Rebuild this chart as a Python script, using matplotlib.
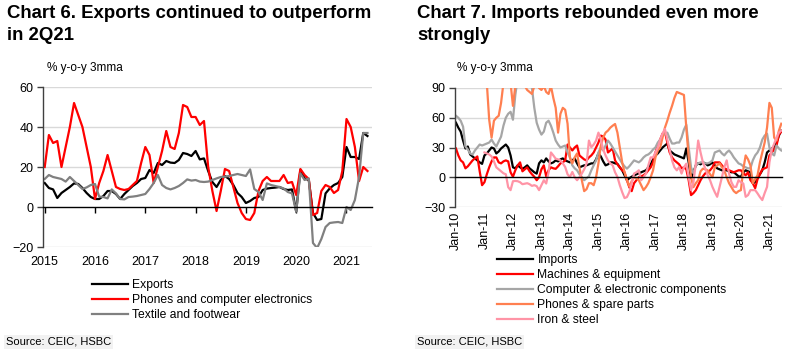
import numpy as np
import matplotlib
matplotlib.use('Agg')
import matplotlib.pyplot as plt

plt.rcParams['font.family'] = ['Liberation Sans', 'DejaVu Sans']

# Chart 6: exports, % y-o-y 3mma, monthly Jan 2015 - Jun 2021
exp_years = [2015, 2016, 2017, 2018, 2019, 2020, 2021]
exports = [12, 9.5, 8.8, 4.5, 7, 8.5, 10, 11.8, 11.5, 9.5, 7, 5,
           4, 4, 5.5, 8, 8, 6.5, 4, 6.5, 8.5, 10.5, 12, 14,
           14.5, 18.5, 17, 22, 21, 23, 22.2, 22, 23.5, 27, 26.5, 25.5,
           28, 23.8, 24.3, 18, 12.5, 10, 13.5, 15.5, 14, 11, 7, 5,
           2, 3, 4.5, 5, 8.5, 9.2, 9.5, 9.7, 10, 9, 8.5, 8.8,
           -2.3, 18.5, 14.3, 13.5, -3, -6.5, -6, 6.8, 9.3, 11, 12, 15,
           30, 25, 25, 24, 37, 35.5]
phones = [20, 36, 32, 33, 20, 30, 40, 52, 46, 40, 30, 20,
          4, 12, 18, 26, 18, 10, 9, 8.5, 9, 11, 13, 22,
          30, 26, 12, 20, 28, 38, 30, 29, 37, 51, 50, 45,
          45, 41, 43, 20, 8, -2, 8, 19, 18, 10, 2, -3,
          -6, -6.5, -3, 8, 13, 15, 13, 13, 13, 16, 12, 12.5,
          6, 19, 16, 14, -4, -3, 8, 11, 10, 7, 8.5, 18,
          44, 40, 30, 13, 20, 18]
textile = [14, 16, 15, 14.5, 14, 12.7, 15, 13, 11, 9, 9.8, 11,
           11.5, 5.2, 5, 4.3, 8.8, 6.8, 4, 3.8, 5, 5.2, 5.5, 6,
           6.5, 9, 12, 16, 11, 9.5, 8.8, 9.5, 10.5, 12, 13.8, 13.2,
           13.5, 12.7, 12.5, 12.7, 13.5, 14.3, 15, 15.2, 15.5, 16, 16.5, 16,
           15.5, 18.8, 9, 7.5, 3.5, 11.8, 11, 10.5, 10, 9.3, 7.5, 6.8,
           -2.3, 16.8, 13.5, 14.3, -18, -20.5, -16, -10, -8, -7.7, -7.5, -8,
           0, -1.5, 3.5, 15, 37, 37]

# Chart 7: imports, % y-o-y 3mma, monthly Jan 2010 - Jun 2021
imp_labels = ['Jan-10', 'Jan-11', 'Jan-12', 'Jan-13', 'Jan-14', 'Jan-15',
              'Jan-16', 'Jan-17', 'Jan-18', 'Jan-19', 'Jan-20', 'Jan-21']
imports = [55, 50, 46, 37, 29, 31, 23, 21, 19, 17, 15, 13.5,
           22, 24, 27, 30, 29, 24, 26, 29, 31, 33, 30, 22,
           10, 9, 12, 10, 8.5, 10, 12, 9, 7, 5, 3.7, 14,
           17, 15, 19, 16, 14, 15, 17, 16, 18, 19, 17, 16,
           15, 17, 19, 14, 10, 11, 12, 12, 13, 14, 14, 18,
           24, 21, 16, 12, 13, 15, 15, 14, 13.5, 10, 7, 2,
           -3, -1, 0.5, 2, 3, 4, 5, 6, 7, 10, 13, 18,
           22, 24, 27, 30, 32, 34, 27, 25, 23, 22, 21, 20,
           19, 29, 15, -1, 5, 12, 14, 13, 15, 14, 12, 13,
           15, 12, 9, 8, 7, 7, 7, 6, 5, 5, 3, 1,
           0.5, 5, 7, 6, 5, -6, -5, 0, 3, 7, 15, 25,
           27, 29, 30, 35, 42, 47]
machines = [29, 22, 17, 15, 9, 11, 14, 17, 19, 21, 6, -8,
            -5, 3, 10, 16, 20, 20, 15, 14, 16, 17, 16, 5,
            0.5, 7, 12, 15, 6, 8, 10, 6, 3, 0.5, -3, 0,
            8, 12, 1, 7, 10, 9, 8.5, 11, 14, 15, 17, 33,
            30, 27, 30, 32, 22, 20, 18, 17, 20, 22, 25, 30,
            35, 42, 41, 38, 25, 27, 29, 17, 13, 10, 7, 5,
            -3, -10, -14, -6, -3, 0, 1, 2, 4, 7, 10, 15,
            25, 32, 38, 44, 46, 35, 25, 20, 17, 15, 13, 9,
            10, 8, -3, -18, -16, -13, -8, -3, 1, 4, 5, 7,
            10, 15, 15, 15, 12, 9, 8, 7, 6, 5, 6, 7,
            7, 4, 2, 5, -3, -6, -11, -2, 3, 8, 9, 10,
            22, 25, 28, 32, 43, 46]
computers = [62, 60, 57, 51, 31, 28, 24, 23, 27, 30, 33, 32,
             33, 34, 35, 38, 34, 31, 36, 41, 52, 60, 64, 66,
             58, 83, 100, 110, 112, 100, 95, 100, 90, 70, 55, 48,
             43, 46, 55, 57, 52, 45, 37, 33, 30, 31, 32, 25,
             20, 12, 9, 7, 3, 0, -3, -1, 1, 7, 12, 17,
             25, 30, 27, 32, 37, 34, 30, 26, 22, 18, 14, 11,
             8.7, 11, 14, 17, 16, 15, 17, 20, 22, 23, 25, 28,
             30, 35, 38, 42, 44, 45, 39, 34, 34, 35, 35, 40,
             48, 53, 30, 10, 4, 12, 14, 15, 15, 14, 14, 15,
             17, 25, 26, 27, 24, 22, 25, 27, 24, 20, 17, 14,
             13, 11, 10, 9, 9, 17, 22, 25, 30, 38, 42, 44,
             30, 24, 22, 32, 29, 27]
phone_parts = [130, 140, 135, 125, 120, 115, 110, 105, 110, 108, 100, 95,
               110, 95, 58, 40, 57, 60, 62, 75, 95, 100, 105, 95,
               72, 92, 100, 98, 95, 92, 88, 86, 84, 92, 95, 90,
               88, 92, 86, 84, 92, 80, 70, 45, 64, 70, 68, 54,
               20, 14, 20, 24, 10, -3, -14, -12, -6, -6, -8, 0,
               14, 32, 40, 45, 47, 50, 52, 53.7, 45, 30, 15, 5,
               -3, -9, -4, 0, -1, -3, -8, -13, -10, -6, 0, 7,
               20, 27, 30, 40, 50, 57, 65, 72, 80, 86, 85, 84,
               83, 50, 20, 0, -10, -6, -3, 6, 8.7, 8, 7, 3,
               0, 10, 12, 14, 10, 7, 0, -6, -10, -14, -16, -14,
               -13, 8, 22, 18, 12, -6, -2, 2, 15, 25, 35, 50,
               75, 70, 40, 37, 47, 54]
iron_steel = [np.nan] * 12 + [
              25, 24, 23, 21, 16, 10, 8, 6, 4, 3, -10, -13,
              -4, -3.7, -4, -5, -7, -6.5, -6, -7, -8.7, -8, -9, -13,
              -8, -3, -6.3, 5, 25, 22, 18.7, 18, 17, 14, 10.3, 3,
              0.3, 5.3, 0, -3, 0, 3.7, 8, 13.7, 37, 30.3, 33, 37,
              45, 38, 28, 22, 17, 14, 12, 5, 0.3, -8, -15, -21,
              -20, -15, -6, 3.7, 5, 7, -3, 0, 3.7, 12, 20, 20,
              25, 30, 38, 44, 48.7, 38, 28, 17, 10, 7, 10.3, 3.7,
              10, 13.7, 0.3, -13, -5, 13.7, 37, 25, 15, 8.7, 2, -3,
              -9.7, -15, -19.7, -9.7, 0.3, 10, 17, 3.7, -5, -9.7, -9.7, -3,
              -5, -6.3, -19.7, -18, -13, -13, -13, -16.3, -20, -23, -16, -9.7,
              15, 28, 33.7, 40, 45, 47]

GRID = '#D9D9D9'

fig = plt.figure(figsize=(7.93, 3.63), dpi=100)


def style_axis(ax, ylim, yticks):
    ax.set_ylim(*ylim)
    ax.set_yticks(yticks)
    for y in yticks:
        if y != 0:
            ax.axhline(y, color=GRID, lw=1, zorder=0)
    ax.spines['top'].set_visible(False)
    ax.spines['right'].set_visible(False)
    ax.spines['bottom'].set_position(('data', 0))
    ax.spines['bottom'].set_linewidth(1)
    ax.spines['left'].set_color('#404040')
    ax.spines['left'].set_linewidth(1)
    ax.tick_params(axis='y', direction='out', length=4, width=1,
                   labelsize=9, pad=3, color='#404040')


# ---- left: Chart 6
ax1 = fig.add_axes([43 / 793, 1 - 247 / 363, 329 / 793, 160 / 363])
t = 2015 + np.arange(len(exports)) / 12
ax1.plot(t, exports, color='black', lw=1.6, label='Exports')
ax1.plot(t, phones, color='#FF0000', lw=1.6, label='Phones and computer electronics')
ax1.plot(t, textile, color='#808080', lw=1.6, label='Textile and footwear')
style_axis(ax1, (-20, 60), [-20, 0, 20, 40, 60])
ax1.set_xlim(2014.966, 2021.507)
ax1.set_xticks(exp_years)
ax1.set_xticklabels([str(y) for y in exp_years])
ax1.tick_params(axis='x', direction='out', length=4, width=1, labelsize=9, pad=31)

# ---- right: Chart 7
ax2 = fig.add_axes([455 / 793, 1 - 207 / 363, 327 / 793, 119 / 363])
m = np.arange(len(imports))
ax2.plot(m, imports, color='black', lw=1.6, label='Imports')
ax2.plot(m, machines, color='#FF0000', lw=1.6, label='Machines & equipment')
ax2.plot(m, computers, color='#A6A6A6', lw=1.6, label='Computer & electronic components')
ax2.plot(m, phone_parts, color='#FF7F50', lw=1.6, label='Phones & spare parts')
ax2.plot(m, iron_steel, color='#FF94A6', lw=1.6, label='Iron & steel')
style_axis(ax2, (-30, 90), [-30, 0, 30, 60, 90])
ax2.set_xlim(-0.4, 137.3)
ax2.set_xticks(np.arange(0, 12 * len(imp_labels), 12))
ax2.set_xticklabels(imp_labels, rotation=90, va='top')
ax2.tick_params(axis='x', length=0, labelsize=9, pad=25)

# titles (two lines each) and unit labels
title_kw = dict(fontsize=13.4, fontweight='bold', va='center', ha='left')
fig.text(7 / 793, 1 - 13 / 363, 'Chart 6. Exports continued to outperform', **title_kw)
fig.text(7 / 793, 1 - 35 / 363, 'in 2Q21', **title_kw)
fig.text(417 / 793, 1 - 13 / 363, 'Chart 7. Imports rebounded even more', **title_kw)
fig.text(417 / 793, 1 - 35 / 363, 'strongly', **title_kw)
fig.text(47 / 793, 1 - 68 / 363, '% y-o-y 3mma', fontsize=8.5, va='center')
fig.text(457 / 793, 1 - 68 / 363, '% y-o-y 3mma', fontsize=8.5, va='center')

# legends
leg_kw = dict(loc='upper left', frameon=False, fontsize=8.7, borderpad=0,
              borderaxespad=0, handlelength=3.0, handletextpad=0.35,
              labelspacing=0.25)
fig.legend(*ax1.get_legend_handles_labels(),
           bbox_to_anchor=(92 / 793, 1 - 279 / 363), **leg_kw)
fig.legend(*ax2.get_legend_handles_labels(),
           bbox_to_anchor=(497 / 793, 1 - 254 / 363), **leg_kw)

# sources
src_box = dict(facecolor='#F2F2F2', edgecolor='none', pad=1.5)
fig.text(6 / 793, 1 - 342 / 363, 'Source: CEIC, HSBC', fontsize=8, va='center', bbox=src_box)
fig.text(417 / 793, 1 - 342 / 363, 'Source: CEIC, HSBC', fontsize=8, va='center', bbox=src_box)

fig.savefig('out.png', dpi=100)
